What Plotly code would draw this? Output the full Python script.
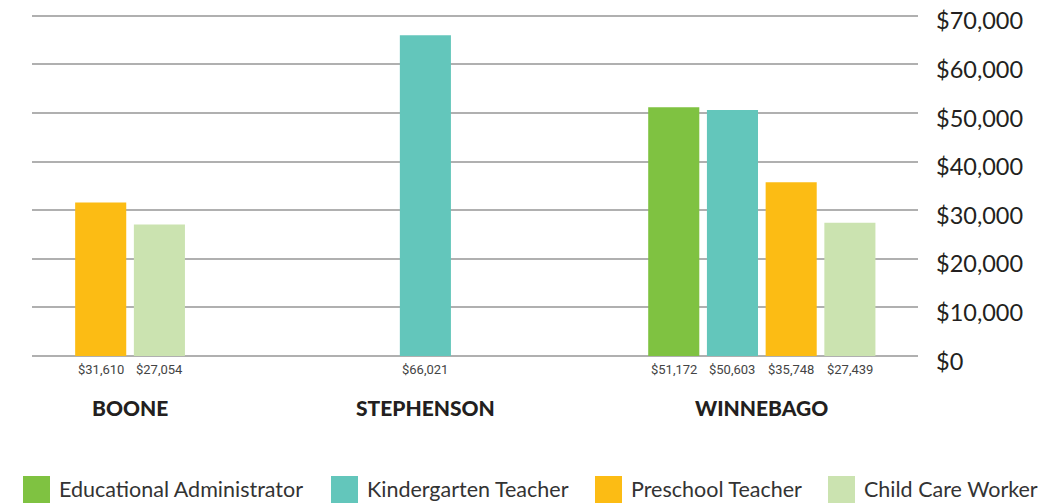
import plotly.graph_objects as go

counties = ["BOONE", "STEPHENSON", "WINNEBAGO"]
series_names = ["Educational Administrator", "Kindergarten Teacher", "Preschool Teacher", "Child Care Worker"]
ed_admin = [None, None, 51172]
kindergarten = [None, 66021, 50603]
preschool = [31610, None, 35748]
child_care = [27054, None, 27439]
series_values = [ed_admin, kindergarten, preschool, child_care]
colors = ["#7fc241", "#63c6bb", "#fcbc14", "#cbe3b0"]
y_ticks = [0, 10000, 20000, 30000, 40000, 50000, 60000, 70000]
y_tick_labels = ["$0", "$10,000", "$20,000", "$30,000", "$40,000", "$50,000", "$60,000", "$70,000"]
y_max = 71000

# layout geometry (in bar-slot units)
group_centers = [1.67, 6.70, 12.43]
bar_width = 0.87
x_range = [0, 15.09]

W, H = 1045, 504
ML, MR, MT, MB = 32, 127, 11, 148
PW, PH = W - ML - MR, H - MT - MB
BASE = MT + PH  # y pixel of zero line


def py(page_y):
    return (BASE - page_y) / PH


def px(page_x):
    return (page_x - ML) / PW


fig = go.Figure()
annotations = []

positions = {}
for ci, c in enumerate(counties):
    present = [si for si in range(len(series_names)) if series_values[si][ci] is not None]
    n = len(present)
    for k, si in enumerate(present):
        positions[(si, ci)] = group_centers[ci] + (k - (n - 1) / 2)

for si, name in enumerate(series_names):
    xs, ys = [], []
    for ci in range(len(counties)):
        v = series_values[si][ci]
        if v is not None:
            xs.append(positions[(si, ci)])
            ys.append(v)
            annotations.append(dict(
                x=positions[(si, ci)], y=0, xref="x", yref="y", yshift=-13,
                text=f"${v:,}", showarrow=False, yanchor="middle",
                font=dict(family="Roboto", size=13, color="#444444")))
    fig.add_trace(go.Bar(x=xs, y=ys, name=name, width=bar_width,
                         marker=dict(color=colors[si], line=dict(width=0)),
                         showlegend=False))

for ci, c in enumerate(counties):
    annotations.append(dict(
        x=group_centers[ci], y=0, xref="x", yref="paper", yshift=-51,
        text=c, showarrow=False, yanchor="middle",
        font=dict(family="Lato", size=21, weight=900, color="#231f20")))

# y-axis labels (sit a little below their gridlines, as in the original)
for tv, tl in zip(y_ticks, y_tick_labels):
    annotations.append(dict(
        x=1, y=tv, xref="paper", yref="y", xanchor="left", yanchor="middle",
        xshift=16, yshift=-4.5, text=tl, showarrow=False,
        font=dict(family="Lato", size=23.5, color="#231f20")))

# manual legend with large swatches
legend_x = [23, 331, 595, 828]
shapes = []
for si, name in enumerate(series_names):
    shapes.append(dict(type="rect", xref="paper", yref="paper",
                       x0=px(legend_x[si]), x1=px(legend_x[si] + 27),
                       y0=py(503), y1=py(476),
                       fillcolor=colors[si], line=dict(width=0)))
    annotations.append(dict(
        x=px(legend_x[si] + 34), y=py(489), xref="paper", yref="paper",
        text=name, showarrow=False, xanchor="left", yanchor="middle",
        font=dict(family="Lato", size=21.5, color="#333333")))

fig.update_layout(
    width=W, height=H,
    margin=dict(l=ML, r=MR, t=MT, b=MB),
    paper_bgcolor="white", plot_bgcolor="white",
    barmode="overlay",
    hovermode=False,
    xaxis=dict(range=x_range, showgrid=False, zeroline=False, showticklabels=False,
               showline=False, ticks=""),
    yaxis=dict(range=[0, y_max], side="right", tickvals=y_ticks,
               showgrid=True, gridcolor="#b0b0b0", gridwidth=1.5,
               zeroline=True, zerolinecolor="#b0b0b0", zerolinewidth=1.5,
               showline=False, ticks="", showticklabels=False, automargin=False),
    annotations=annotations,
    shapes=shapes,
)

fig.write_html("out.html", config={"displayModeBar": False},
               post_script="document.body.style.margin='0';")
